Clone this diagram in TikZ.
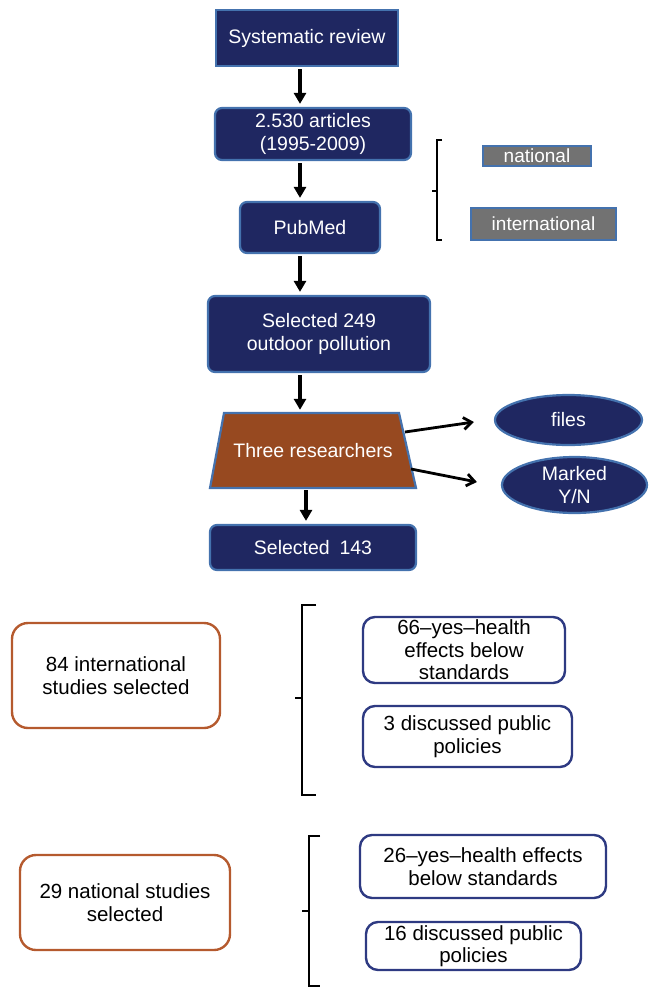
\documentclass[tikz,border=0pt]{standalone}
\usepackage{fontspec}
\setmainfont{Liberation Sans}
\usetikzlibrary{arrows.meta, positioning, shapes.geometric, calc}

\definecolor{navy}{HTML}{1F2761}
\definecolor{edgeblue}{HTML}{4472AE}
\definecolor{rust}{HTML}{974920}
\definecolor{boxgrey}{HTML}{727272}
\definecolor{ochre}{HTML}{B55A2E}
\definecolor{inkblue}{HTML}{2E3A82}

\begin{document}
\begin{tikzpicture}[
  x=1pt, y=-1pt,
  every node/.style={align=center, inner sep=0pt},
  flow/.style={draw=edgeblue, fill=navy, line width=2.2pt, text=white,
    rounded corners=7pt, font=\fontsize{19.5}{23}\selectfont},
  tag/.style={draw=edgeblue, fill=boxgrey, line width=2pt, text=white,
    font=\fontsize{19}{22}\selectfont},
  study/.style={draw=ochre, line width=2.4pt, rounded corners=16pt,
    font=\fontsize{20.5}{23}\selectfont},
  finding/.style={draw=inkblue, line width=2.4pt, rounded corners=12pt,
    font=\fontsize{20.5}{22.5}\selectfont},
  arr/.style={-{Triangle[length=11pt, width=12pt]}, line width=3.6pt,
    shorten <=2pt, shorten >=3pt},
  sidearr/.style={-{Straight Barb[length=8pt, width=12pt]}, line width=2.8pt},
  brk/.style={line width=2.8pt}
]
  \useasboundingbox (0,0) rectangle (650,989);

  % main flow
  \node[flow, rounded corners=0pt, minimum width=182, minimum height=56]
    (sysrev) at (307,38) {Systematic review};
  \node[flow, minimum width=196, minimum height=52]
    (articles) at (313,134) {2.530 articles\\(1995-2009)};
  \node[flow, minimum width=140, minimum height=51]
    (pubmed) at (310,227.5) {PubMed};
  \node[flow, minimum width=222, minimum height=76]
    (sel249) at (319,334) {Selected 249\\outdoor pollution};
  \draw[flow, fill=rust, rounded corners=0pt]
    (210,488) -- (224,413) -- (399,413) -- (416,488) -- cycle;
  \node[font=\fontsize{19.5}{23}\selectfont, text=white, minimum width=206,
    minimum height=75] (three) at (313,450.5) {Three researchers};
  \node[flow, minimum width=206, minimum height=45]
    (sel143) at (313,547.5) {Selected\enspace 143};

  % outcomes of the screening
  \node[flow, ellipse, minimum width=147, minimum height=50]
    (files) at (568.5,420) {files};
  \node[flow, ellipse, minimum width=145, minimum height=56]
    (marked) at (574.5,485) {Marked\\Y/N};

  \coordinate (axis) at (300,0);
  \coordinate (axisb) at (306,0);
  \draw[arr] (sysrev.south -| axis) -- (articles.north -| axis);
  \draw[arr] (articles.south -| axis) -- (pubmed.north -| axis);
  \draw[arr] (pubmed.south -| axis) -- (sel249.north -| axis);
  \draw[arr] (sel249.south -| axis) -- (three.north -| axis);
  \draw[arr] (three.south -| axisb) -- (sel143.north -| axisb);

  \coordinate (outa) at (405,432);
  \coordinate (outb) at (411,469);
  \draw[sidearr] (outa) -- ($(files.west)+(-20,2)$);
  \draw[sidearr] (outb) -- ($(marked.west)+(-24,-3)$);

  % sources
  \node[tag, minimum width=108, minimum height=20] (natl) at (537,156) {national};
  \node[tag, minimum width=145, minimum height=32] (intl) at (543.5,224) {international};
  \draw[brk] (442,140) -- (437,140) -- (437,240) -- (442,240);
  \draw[line width=1.2pt] (437,191) -- (432,191);

  % international studies
  \node[study, minimum width=208, minimum height=105]
    (intlsel) at (116,675.5) {84 international\\studies selected};
  \node[finding, minimum width=202, minimum height=66]
    (yes66) at (464,650) {66--yes--health\\effects below\\standards};
  \node[finding, minimum width=209, minimum height=61]
    (pol3) at (467.5,736.5) {3 discussed public\\policies};
  \draw[brk] (316,605) -- (302,605) -- (302,795) -- (316,795);
  \draw[line width=1.2pt] (302,698) -- (295,698);

  % national studies
  \node[study, minimum width=210, minimum height=95]
    (natsel) at (125,902.5) {29 national studies\\selected};
  \node[finding, minimum width=246, minimum height=63]
    (yes26) at (483,866.5) {26--yes--health effects\\below standards};
  \node[finding, minimum width=215, minimum height=48]
    (pol16) at (473.5,946) {16 discussed public\\policies};
  \draw[brk] (320,836) -- (309,836) -- (309,986) -- (320,986);
  \draw[line width=1.2pt] (309,911) -- (302,911);
\end{tikzpicture}
\end{document}
